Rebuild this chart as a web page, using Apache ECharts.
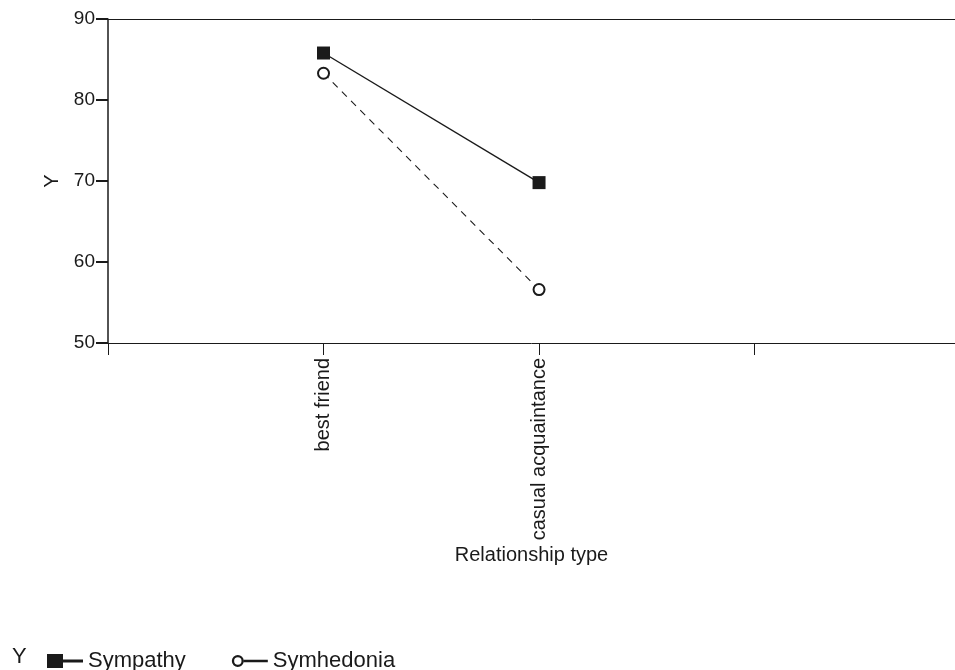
<!DOCTYPE html>
<html>
<head>
<meta charset="utf-8">
<script src="https://cdn.jsdelivr.net/npm/echarts@6/dist/echarts.min.js"></script>
<style>
  html, body { margin: 0; padding: 0; background: #fff; }
  #root { width: 955px; height: 670px; }
</style>
</head>
<body>
<div id="root"></div>
<script>
// relationship types, placed at x = 1, 2 on the axis
const categories = ['best friend', 'casual acquaintance'];
const sympathy = [85.8, 69.8];
const symhedonia = [83.3, 56.6];
const yTicks = [50, 60, 70, 80, 90];

const font = 'Liberation Sans, Arial, sans-serif';
const ink = '#1a1a1a';

const toPoints = vals => vals.map((v, i) => [i + 1, v]);

let myCharts = echarts.init(document.getElementById('root'));
let option = {
  backgroundColor: '#fff',
  animation: false,
  textStyle: { fontFamily: font, color: ink },
  title: {
    text: 'Y',
    left: 7,
    top: 641,
    textStyle: { fontFamily: font, fontSize: 22, fontWeight: 'normal', color: ink }
  },
  legend: {
    left: 42,
    top: 645,
    itemGap: 46,
    itemWidth: 36,
    itemHeight: 14,
    textStyle: { fontFamily: font, fontSize: 22, color: ink },
    data: [
      {
        name: 'Sympathy',
        icon: 'path://M0,0h16v14h-16z M16,5.5h20v3h-20z',
        itemStyle: { color: ink, borderWidth: 0 }
      },
      {
        name: 'Symhedonia',
        icon: 'path://M0,7a6,6 0 1,0 12,0a6,6 0 1,0 -12,0z M2.3,7a3.7,3.7 0 1,1 7.4,0a3.7,3.7 0 1,1 -7.4,0z M12,5.8h24v2.4h-24z',
        itemStyle: { color: ink, borderWidth: 0 }
      }
    ]
  },
  grid: { left: 108, right: 0, top: 19, bottom: 327 },
  xAxis: [
    {
      type: 'value',
      min: 0,
      max: 3.93,
      interval: 1,
      name: 'Relationship type',
      nameLocation: 'middle',
      nameGap: 202,
      nameTextStyle: { fontFamily: font, fontSize: 20, color: ink },
      axisLine: { lineStyle: { color: ink, width: 1 } },
      axisTick: { show: true, length: 12, lineStyle: { color: ink } },
      axisLabel: {
        rotate: 90,
        margin: 15,
        fontSize: 20,
        color: ink,
        fontFamily: font,
        formatter: v => categories[v - 1] || ''
      },
      splitLine: { show: false }
    },
    {
      type: 'value',
      position: 'top',
      min: 0,
      max: 3.93,
      axisLine: { show: true, lineStyle: { color: ink, width: 1 } },
      axisTick: { show: false },
      axisLabel: { show: false },
      splitLine: { show: false }
    }
  ],
  yAxis: {
    type: 'value',
    min: yTicks[0],
    max: yTicks[yTicks.length - 1],
    interval: 10,
    name: 'Y',
    nameLocation: 'middle',
    nameGap: 46,
    nameRotate: 90,
    nameTextStyle: { fontFamily: font, fontSize: 20, color: ink },
    axisLine: { show: true, lineStyle: { color: ink, width: 1.5 } },
    axisTick: { show: true, length: 12, lineStyle: { color: ink, width: 2 } },
    axisLabel: { margin: 13, fontSize: 19, color: ink, fontFamily: font },
    splitLine: { show: false }
  },
  series: [
    {
      name: 'Sympathy',
      type: 'line',
      data: toPoints(sympathy),
      symbol: 'rect',
      symbolSize: 13,
      itemStyle: { color: ink },
      lineStyle: { color: ink, width: 1.4, type: 'solid' }
    },
    {
      name: 'Symhedonia',
      type: 'line',
      data: toPoints(symhedonia),
      symbol: 'circle',
      symbolSize: 11,
      itemStyle: { color: '#fff', borderColor: ink, borderWidth: 2 },
      lineStyle: { color: ink, width: 1.1, type: [7, 6] }
    }
  ]
};
myCharts.setOption(option);
</script>
</body>
</html>
